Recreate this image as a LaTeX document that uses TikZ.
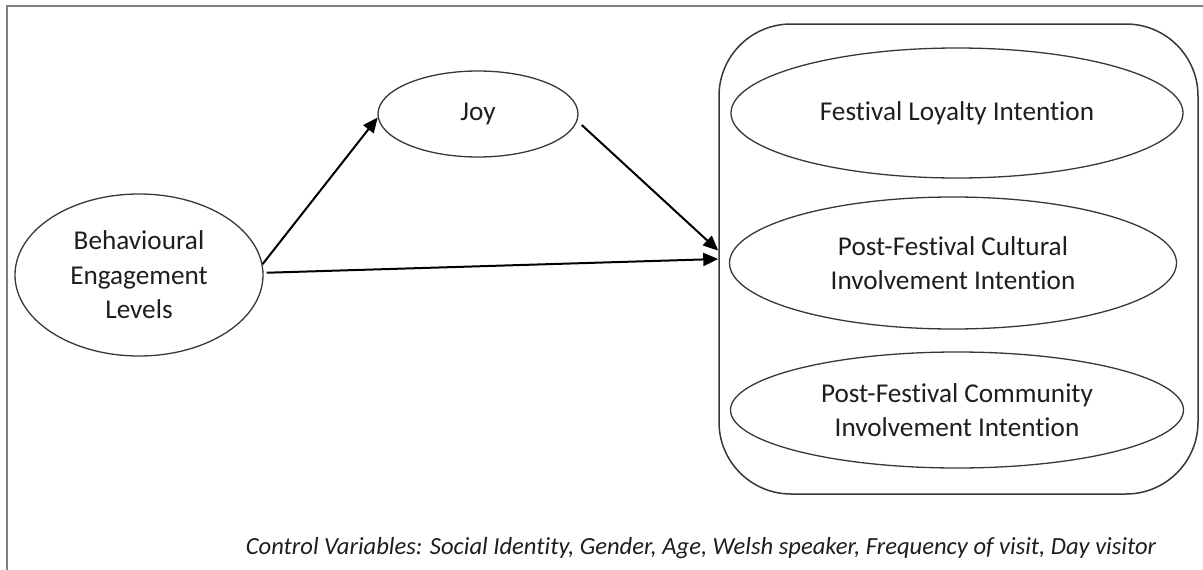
\documentclass[tikz,border=0pt]{standalone}
\usepackage{fontspec}
\setmainfont{Carlito}[Ligatures=NoCommon]
\usepackage{xcolor}
\usetikzlibrary{positioning,arrows.meta,shapes.geometric}
\definecolor{ink}{RGB}{30,30,30}
\definecolor{edgegray}{RGB}{55,55,55}
\definecolor{framegray}{RGB}{128,128,128}
\tikzset{
  latent/.style={ellipse, draw=edgegray, line width=1.3pt, align=center,
    inner sep=0pt, text=ink, font=\fontsize{27.2}{34.5}\selectfont},
  outer/.style={draw=edgegray, line width=1.5pt, rounded corners=72pt,
    inner sep=0pt},
  flow/.style={-{Triangle[length=15pt,width=13pt]}, line width=2pt, draw=black},
  note/.style={font=\fontsize{24.6}{28}\selectfont\itshape, text=ink},
}
\begin{document}
\begin{tikzpicture}[x=1pt,y=-1pt]
  \useasboundingbox (0,0) rectangle (1203,570);
  \draw[framegray, line width=2pt] (1203,6) -- (7,6) -- (7,570);
  % predictor and mediator
  \node[latent, minimum width=248pt, minimum height=162pt] (beh) at (139,275)
    {Behavioural\\Engagement\\Levels};
  \node[latent, minimum width=200pt, minimum height=86pt] (joy) at (478,114) {Joy};
  % outcomes
  \node[outer, minimum width=479pt, minimum height=470pt] (box) at (958.5,259) {};
  \node[latent, minimum width=452pt, minimum height=130pt] (loyal) at (957,113)
    {Festival Loyalty Intention};
  \node[latent, minimum width=447pt, minimum height=132pt] (cult) at (953,263)
    {Post-Festival Cultural\\Involvement Intention};
  \node[latent, minimum width=453pt, minimum height=116pt] (comm) at (957,410)
    {Post-Festival Community\\Involvement Intention};
  \draw[flow] (beh.5) -- (joy.182);
  \draw[flow, shorten <=6pt] (joy.-4) -- (box.178.6);
  \draw[flow, shorten <=3pt] (beh.1) -- (box.180.7);
  \node[note] (ctrl) at (701,548) {Control Variables: Social Identity, Gender, Age, Welsh speaker, Frequency of visit, Day visitor};
\end{tikzpicture}
\end{document}
